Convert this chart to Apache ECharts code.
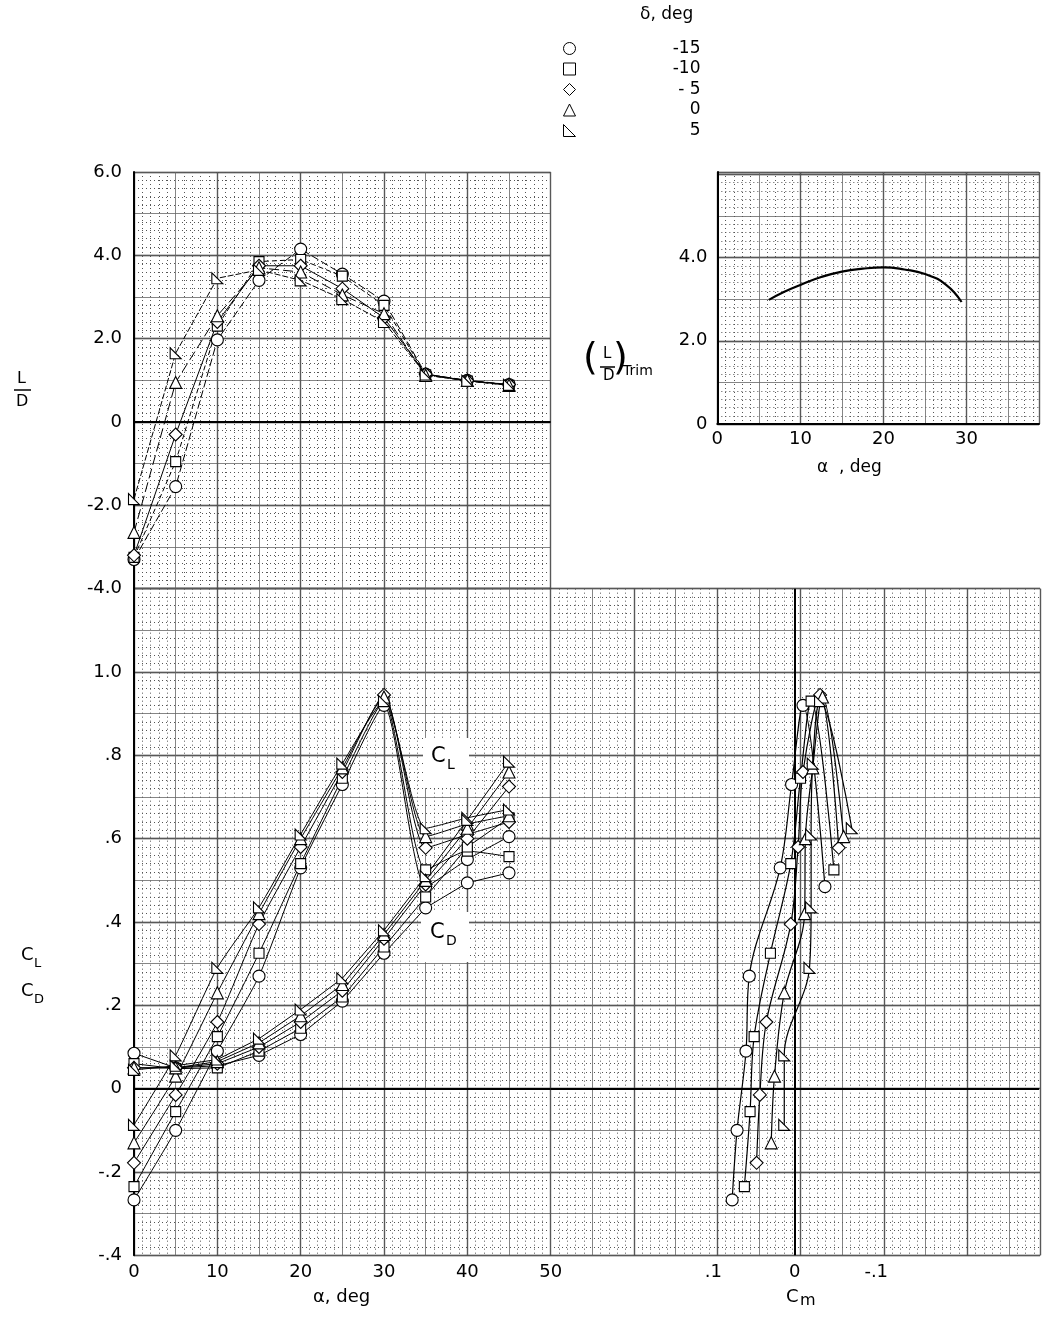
<!DOCTYPE html>
<html>
<head>
<meta charset="utf-8">
<title>L/D, CL, CD, Cm</title>
<script src="https://cdn.jsdelivr.net/npm/echarts@6/dist/echarts.min.js"></script>
<style>
html, body { margin: 0; padding: 0; background: #fff; }
#chart { width: 1042px; height: 1318px; }
</style>
</head>
<body>
<div id="chart"></div>
<script>
// angle of attack, deg
const alpha = [0, 5, 10, 15, 20, 25, 30, 35, 40, 45];
const deltaNames = ['-15', '-10', '- 5', '0', '5'];

// L/D
const ld_m15 = [-3.3, -1.55, 1.97, 3.4, 4.15, 3.55, 2.9, 1.15, 1.0, 0.9];
const ld_m10 = [-3.25, -0.95, 2.3, 3.85, 3.9, 3.5, 2.8, 1.13, 0.98, 0.88];
const ld_m5 = [-3.2, -0.3, 2.4, 3.75, 3.75, 3.2, 2.5, 1.15, 0.99, 0.9];
const ld_0 = [-2.65, 0.95, 2.55, 3.7, 3.6, 3.05, 2.6, 1.12, 1.0, 0.88];
const ld_p5 = [-1.85, 1.65, 3.45, 3.65, 3.4, 2.95, 2.4, 1.14, 0.99, 0.89];

// CL
const cl_m15 = [-0.267, -0.10, 0.09, 0.27, 0.53, 0.73, 0.92, 0.485, 0.55, 0.605];
const cl_m10 = [-0.235, -0.055, 0.125, 0.325, 0.54, 0.745, 0.93, 0.525, 0.57, 0.557];
const cl_m5 = [-0.178, -0.015, 0.16, 0.395, 0.58, 0.76, 0.945, 0.578, 0.61, 0.64];
const cl_0 = [-0.13, 0.03, 0.23, 0.42, 0.60, 0.77, 0.94, 0.605, 0.635, 0.655];
const cl_p5 = [-0.087, 0.08, 0.29, 0.435, 0.61, 0.78, 0.93, 0.625, 0.65, 0.67];

// CD
const cd_m15 = [0.085, 0.05, 0.055, 0.08, 0.13, 0.21, 0.325, 0.434, 0.494, 0.518];
const cd_m10 = [0.06, 0.048, 0.05, 0.09, 0.145, 0.22, 0.34, 0.46, 0.58, 0.65];
const cd_m5 = [0.05, 0.05, 0.06, 0.10, 0.16, 0.235, 0.36, 0.49, 0.60, 0.725];
const cd_0 = [0.05, 0.05, 0.065, 0.11, 0.175, 0.25, 0.37, 0.50, 0.625, 0.76];
const cd_p5 = [0.045, 0.055, 0.07, 0.12, 0.19, 0.265, 0.38, 0.51, 0.645, 0.785];

// Cm (alpha 0..35 only)
const cm_m15 = [0.077, 0.071, 0.06, 0.056, 0.018, 0.004, -0.01, -0.037];
const cm_m10 = [0.062, 0.055, 0.05, 0.03, 0.005, -0.007, -0.02, -0.048];
const cm_m5 = [0.047, 0.043, 0.035, 0.005, -0.004, -0.01, -0.031, -0.054];
const cm_0 = [0.029, 0.025, 0.013, -0.012, -0.013, -0.022, -0.034, -0.06];
const cm_p5 = [0.013, 0.013, -0.018, -0.02, -0.02, -0.022, -0.031, -0.07];

// (L/D) trim
const trimAlpha = [6.2, 8, 10, 12.5, 15, 17.5, 20, 22.5, 25, 27.5, 29.4];
const trimLD = [2.98, 3.17, 3.34, 3.53, 3.66, 3.73, 3.76, 3.71, 3.6, 3.35, 2.93];

const ldSets = [ld_m15, ld_m10, ld_m5, ld_0, ld_p5];
const clSets = [cl_m15, cl_m10, cl_m5, cl_0, cl_p5];
const cdSets = [cd_m15, cd_m10, cd_m5, cd_0, cd_p5];
const cmSets = [cm_m15, cm_m10, cm_m5, cm_0, cm_p5];

const FONT = 'DejaVu Sans';
const FLAG = 'path://M0,0 L0,10 L10,10 Z';
const symbols = ['circle', 'rect', 'diamond', 'triangle', FLAG];
const symSize = [12, 10, 13, 12, 11];
const ldDash = [[8, 3], [5, 3], 'solid', [10, 4], [6, 2]];

// graph paper: one heavy axis (interval 10 / 2) and one light axis (5 / 1) with dotted minor lines
function heavy(type, gridIndex, min, max, interval) {
    return {
        type: 'value', gridIndex, min, max, interval,
        axisLine: { show: false }, axisTick: { show: false }, axisLabel: { show: false },
        splitLine: { show: true, lineStyle: { color: '#222', width: 1.3 } }
    };
}
function light(gridIndex, min, max, interval) {
    return {
        type: 'value', gridIndex, min, max, interval,
        axisLine: { show: false }, axisTick: { show: false }, axisLabel: { show: false },
        splitLine: { show: true, lineStyle: { color: '#666', width: 0.8 } },
        minorTick: { show: false, splitNumber: 5 },
        minorSplitLine: { show: true, lineStyle: { color: '#555', width: 1, type: [1, 3] } }
    };
}
const labelStyle = { color: '#000', fontFamily: FONT, fontSize: 18 };

const xAxis = [
    heavy('x', 0, 0, 50, 10),
    light(0, 0, 50, 5),
    Object.assign(heavy('x', 1, 0, 38.72, 10), {
        axisLine: { show: true, onZero: false, lineStyle: { color: '#000', width: 2 } },
        axisLabel: Object.assign({ show: true, margin: 6, formatter: v => (v % 10 === 0 ? String(v) : '') }, labelStyle)
    }),
    light(1, 0, 38.72, 5),
    heavy('x', 2, 0, 108.72, 10),
    light(2, 0, 108.72, 5),
    {
        type: 'value', gridIndex: 3, min: 0, max: 50, interval: 10,
        axisLine: { show: false }, axisTick: { show: false }, splitLine: { show: false },
        axisLabel: Object.assign({ margin: 8 }, labelStyle)
    },
    {
        type: 'value', gridIndex: 4, min: -0.3, max: 0.3, interval: 0.1, inverse: true,
        axisLine: { show: false }, axisTick: { show: false }, splitLine: { show: false },
        axisLabel: Object.assign({
            margin: 8,
            formatter: v => { const r = Math.round(v * 10); return r === 1 ? '.1' : r === 0 ? '0' : r === -1 ? '-.1' : ''; }
        }, labelStyle)
    }
];

const yAxis = [
    Object.assign(heavy('y', 0, -4, 6, 2), {
        axisLine: { show: true, onZero: false, lineStyle: { color: '#000', width: 2 } },
        axisLabel: Object.assign({ show: true, margin: 12, formatter: v => (v === 0 ? '0' : v.toFixed(1)) }, labelStyle)
    }),
    light(0, -4, 6, 1),
    Object.assign(heavy('y', 1, 0, 6.05, 2), {
        axisLine: { show: true, onZero: false, lineStyle: { color: '#000', width: 2 } },
        axisLabel: Object.assign({ show: true, margin: 10, formatter: v => (v === 0 ? '0' : (v === 2 || v === 4) ? v.toFixed(1) : '') }, labelStyle)
    }),
    light(1, 0, 6.05, 1),
    Object.assign(heavy('y', 2, 0, 16, 2), {
        axisLine: { show: true, onZero: false, lineStyle: { color: '#000', width: 2 } }
    }),
    light(2, 0, 16, 1),
    {
        type: 'value', gridIndex: 3, min: -0.4, max: 1.2, interval: 0.2,
        axisLine: { show: false }, axisTick: { show: false }, splitLine: { show: false },
        axisLabel: Object.assign({
            margin: 12,
            formatter: v => {
                const r = Math.round(v * 10);
                if (r === 12) return '';
                if (r === 10) return '1.0';
                if (r === 0) return '0';
                return (r < 0 ? '-' : '') + '.' + Math.abs(r);
            }
        }, labelStyle)
    },
    {
        type: 'value', gridIndex: 4, min: -0.4, max: 1.2, interval: 0.2, show: false,
        splitLine: { show: false }
    }
];

const zeroLine = (data) => ({
    silent: true, symbol: 'none', animation: false, label: { show: false },
    lineStyle: { color: '#000', width: 2, type: 'solid' }, data
});

const series = [];
const markerStyle = { color: '#fff', borderColor: '#000', borderWidth: 1.1 };
deltaNames.forEach((name, i) => {
    series.push({
        name, type: 'line', xAxisIndex: 0, yAxisIndex: 0, z: 10,
        data: alpha.map((a, k) => [a, ldSets[i][k]]),
        symbol: symbols[i], symbolSize: symSize[i], itemStyle: markerStyle,
        lineStyle: { color: '#000', width: 1, type: ldDash[i] },
        markLine: i === 0 ? zeroLine([{ yAxis: 0 }]) : undefined
    });
    series.push({
        name, type: 'line', xAxisIndex: 6, yAxisIndex: 6, z: 10, smooth: 0.2,
        data: alpha.map((a, k) => [a, clSets[i][k]]),
        symbol: symbols[i], symbolSize: symSize[i], itemStyle: markerStyle,
        lineStyle: { color: '#000', width: 1 },
        markLine: i === 0 ? zeroLine([{ yAxis: 0 }]) : undefined
    });
    series.push({
        name, type: 'line', xAxisIndex: 6, yAxisIndex: 6, z: 10,
        data: alpha.map((a, k) => [a, cdSets[i][k]]),
        symbol: symbols[i], symbolSize: symSize[i], itemStyle: markerStyle,
        lineStyle: { color: '#000', width: 1 }
    });
    series.push({
        name, type: 'line', xAxisIndex: 7, yAxisIndex: 7, z: 10, smooth: 0.35,
        data: cmSets[i].map((c, k) => [c, clSets[i][k]]),
        symbol: symbols[i], symbolSize: symSize[i], itemStyle: markerStyle,
        lineStyle: { color: '#000', width: 1.2 },
        markLine: i === 0 ? zeroLine([{ yAxis: 0 }, { xAxis: 0 }]) : undefined
    });
});
series.push({
    name: 'trim', type: 'line', xAxisIndex: 2, yAxisIndex: 2, z: 10, smooth: true,
    data: trimAlpha.map((a, k) => [a, trimLD[k]]),
    symbol: 'none', lineStyle: { color: '#000', width: 2.2 }
});

const txt = (left, top, text, size, extra) => Object.assign({
    type: 'text', left, top, z: 6,
    style: { text, fill: '#000', font: size + 'px "' + FONT + '"' }
}, extra || {});

const option = {
    animation: false,
    backgroundColor: '#fff',
    grid: [
        { left: 134, top: 172, width: 416.67, height: 416.67 },
        { left: 717.33, top: 172, width: 322.67, height: 252.1 },
        { left: 134, top: 588.67, width: 906, height: 666.67 },
        { left: 134, top: 588.67, width: 416.67, height: 666.67 },
        { left: 550.67, top: 588.67, width: 500, height: 666.67 }
    ],
    xAxis,
    yAxis,
    legend: {
        orient: 'vertical', left: 558, top: 35, itemWidth: 12, itemHeight: 12, itemGap: 3.5,
        selectedMode: false,
        data: deltaNames.map((n, i) => ({ name: n, icon: symbols[i] })),
        itemStyle: { color: '#fff', borderColor: '#000', borderWidth: 1 },
        formatter: n => '{v|' + n + '}',
        textStyle: { rich: { v: { width: 120, align: 'right', fontSize: 17, lineHeight: 13, fontFamily: FONT, color: '#000' } } }
    },
    graphic: [
        txt(640, 6, 'δ, deg', 17),
        // L/D axis title
        txt(17, 371, 'L', 16),
        { type: 'line', z: 6, shape: { x1: 14, y1: 390, x2: 31, y2: 390 }, style: { stroke: '#000', lineWidth: 1.5 } },
        txt(16, 394, 'D', 16),
        // (L/D) trim
        txt(583, 340, '(', 38),
        txt(603, 347, 'L', 15),
        { type: 'line', z: 6, shape: { x1: 600, y1: 367, x2: 615, y2: 367 }, style: { stroke: '#000', lineWidth: 1.5 } },
        txt(603, 369, 'D', 15),
        txt(613, 340, ')', 38),
        txt(623, 364, 'Trim', 14),
        // trim alpha label
        txt(817, 459, 'α  , deg', 17),
        // CL / CD axis title
        txt(21, 946, 'C', 18),
        txt(34, 957, 'L', 13),
        txt(21, 982, 'C', 18),
        txt(34, 993, 'D', 13),
        // bottom titles
        txt(313, 1288, 'α, deg', 18),
        txt(786, 1288, 'C', 18),
        txt(800, 1293, 'm', 16),
        // curve tags with white boxes
        { type: 'rect', z: 5, shape: { x: 423, y: 738, width: 46, height: 50 }, style: { fill: '#fff' } },
        txt(431, 746, 'C', 21),
        txt(447, 758, 'L', 14),
        { type: 'rect', z: 5, shape: { x: 421, y: 912, width: 48, height: 50 }, style: { fill: '#fff' } },
        txt(430, 922, 'C', 21),
        txt(446, 934, 'D', 14)
    ],
    series
};

const chart = echarts.init(document.getElementById('chart'));
chart.setOption(option);
</script>
</body>
</html>
